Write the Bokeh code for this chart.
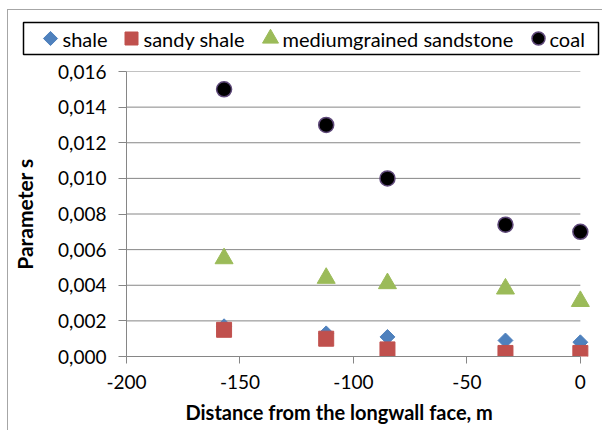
import numpy as np
from bokeh.plotting import figure
from bokeh.models import (ColumnDataSource, FixedTicker, CustomJSTickFormatter, Range1d, Title)
from bokeh.core.properties import value
from bokeh.embed import file_html
from bokeh.resources import INLINE

# ---- data ----
distance = [-157, -112, -85, -33, 0]
shale = [0.0017, 0.0013, 0.0011, 0.0009, 0.0008]
sandy_shale = [0.0015, 0.0010, 0.0004, 0.0002, 0.0002]
sandstone = [0.0055, 0.0044, 0.0041, 0.0038, 0.0031]
coal = [0.0150, 0.0130, 0.0100, 0.0074, 0.0070]

series_names = ["shale", "sandy shale", "mediumgrained sandstone", "coal"]
x_ticks = [-200, -150, -100, -50, 0]
x_tick_labels = ["-200", "-150", "-100", "-50", "0"]
y_ticks = [0.0, 0.002, 0.004, 0.006, 0.008, 0.010, 0.012, 0.014, 0.016]

x_title = "Distance from the longwall face, m"
y_title = "Parameter s"

FONT = "Lato"
GRID = "#868686"

src = ColumnDataSource(dict(x=distance, shale=shale, sandy=sandy_shale,
                            sand=sandstone, coal=coal))
cols = ["shale", "sandy", "sand", "coal"]
STYLES = [
    dict(marker="square", angle=np.pi / 4, size=10.5, fill_color="#4F81BD", line_color="#4F81BD"),
    dict(marker="square", size=15, fill_color="#C0504D", line_color="#C0504D"),
    dict(marker="triangle", size=18, fill_color="#9BBB59", line_color="#9BBB59"),
    dict(marker="circle", size=15, fill_color="black", line_color="#5F497A", line_width=1.5),
]
LEG_SIZES = [10, 13, 16, 13]

# ---------- main chart ----------
p = figure(width=595, height=421, output_backend="svg", toolbar_location=None,
           x_range=Range1d(-200, 8), y_range=Range1d(0, 0.016),
           min_border_left=118, min_border_right=5, min_border_top=61,
           min_border_bottom=75)
p.styles = {"margin-left": "7px", "margin-top": "9px",
            "border-left": "1px solid #a6a6a6", "border-top": "1px solid #a6a6a6"}
p.outline_line_color = None
p.xgrid.visible = False
p.ygrid.visible = False

grid_src = ColumnDataSource(dict(x0=[x_ticks[0]] * (len(y_ticks) - 1),
                                 x1=[x_ticks[-1]] * (len(y_ticks) - 1),
                                 y=y_ticks[1:]))
p.segment(x0="x0", y0="y", x1="x1", y1="y", source=grid_src,
          line_color=GRID, line_width=1, level="underlay")

for c, st in zip(cols, STYLES):
    p.scatter("x", c, source=src, **st)

xa = p.xaxis[0]
xa.bounds = (-200, 0)
xa.ticker = FixedTicker(ticks=x_ticks)
xa.major_label_overrides = {t: l for t, l in zip(x_ticks, x_tick_labels)}
xa.axis_line_color = GRID
xa.major_tick_line_color = GRID
xa.major_tick_out = 7
xa.major_tick_in = 0
xa.minor_tick_line_color = None
xa.major_label_text_font = FONT
xa.major_label_text_font_size = "19px"
xa.major_label_text_color = "black"
xa.major_label_standoff = 11

# x-axis title as a below-panel Title so it can sit where the original does
xt = Title(text=x_title, align="left", offset=59, standoff=12,
           text_font=FONT, text_font_style="bold", text_font_size="20px",
           text_color="black")
p.add_layout(xt, "below")

ya = p.yaxis[0]
ya.bounds = (0, 0.016)
ya.ticker = FixedTicker(ticks=y_ticks)
ya.formatter = CustomJSTickFormatter(code="return tick.toFixed(3).replace('.', ',');")
ya.axis_line_color = GRID
ya.major_tick_line_color = GRID
ya.major_tick_out = 8
ya.major_tick_in = 0
ya.minor_tick_line_color = None
ya.major_label_text_font = FONT
ya.major_label_text_font_size = "19px"
ya.major_label_text_color = "black"
ya.major_label_standoff = 12
ya.axis_label = y_title
ya.axis_label_text_font = FONT
ya.axis_label_text_font_style = "bold"
ya.axis_label_text_font_size = "21px"
ya.axis_label_text_color = "black"
ya.axis_label_standoff = 18

# ---------- legend box (separate overlay figure, pixel coordinates) ----------
LW, LH = 580, 36
lf = figure(width=LW, height=LH, output_backend="svg", toolbar_location=None,
            x_range=Range1d(0, LW), y_range=Range1d(0, LH),
            x_axis_location=None, y_axis_location=None, min_border=0)
lf.styles = {"position": "absolute", "left": "21px", "top": "20px"}
lf.outline_line_color = None
lf.xgrid.visible = False
lf.ygrid.visible = False
lf.background_fill_alpha = 0
lf.border_fill_alpha = 0

leg_marker_x = [29, 110, 249, 517]
leg_label_x = [41, 122, 261, 528]
leg_y = 18
lf.quad(left=2, right=577, bottom=2, top=34, fill_color="white",
        line_color="black", line_width=1.5)
for st, sz, mx in zip(STYLES, LEG_SIZES, leg_marker_x):
    st2 = dict(st)
    st2["size"] = sz
    lf.scatter(x=[mx], y=[leg_y], **st2)
lf.text(x=leg_label_x, y=[leg_y] * 4, text=series_names,
        text_font=value(FONT), text_font_size="20px", text_color="black",
        text_baseline="middle", text_align="left")

open("out.html", "w").write(file_html([p, lf], INLINE))
